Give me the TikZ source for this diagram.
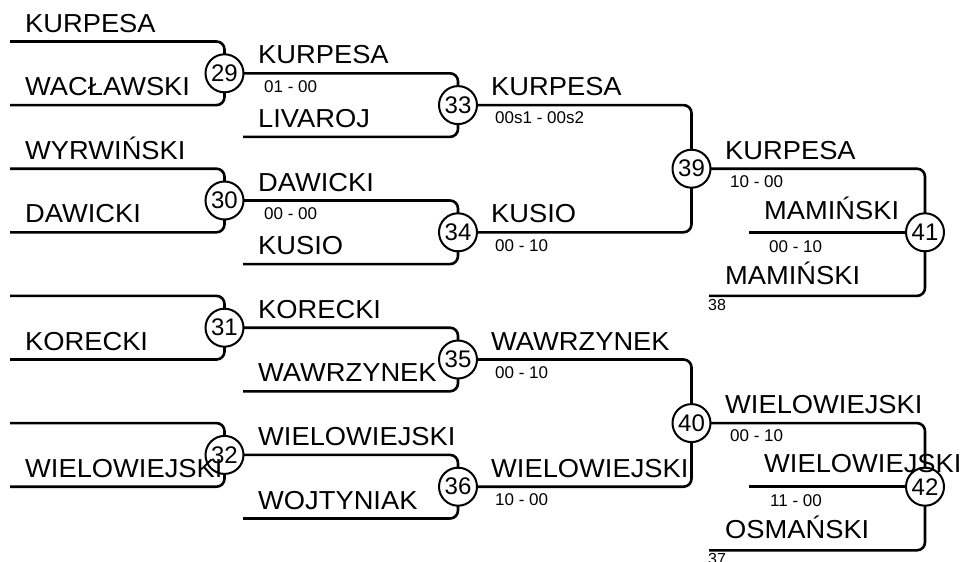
\documentclass[tikz,border=0pt]{standalone}
\usepackage{fontspec}
\setmainfont{Liberation Sans}
\newfontfamily\nmfont{Liberation Sans}[FakeStretch=1.05]
\usetikzlibrary{backgrounds}
\begin{document}
\begin{tikzpicture}[x=1pt,y=-1pt,
  conn/.style={line width=2.6pt, rounded corners=8pt},
  mnum/.style={circle, draw, line width=2pt, fill=white, minimum size=38pt, inner sep=0pt, font=\fontsize{24}{24}\selectfont},
  nm/.style={anchor=base west, inner sep=0pt, font=\nmfont\fontsize{26}{26}\selectfont},
  sc/.style={anchor=base west, inner sep=0pt, font=\fontsize{17}{17}\selectfont},
  sm/.style={anchor=base west, inner sep=0pt, font=\fontsize{16}{16}\selectfont}]
\useasboundingbox (0,0) rectangle (962,562);
% match circles
\node[mnum] (m29) at (224.5,73.3) {29};
\node[mnum] (m30) at (224.5,200.5) {30};
\node[mnum] (m31) at (224.5,327.7) {31};
\node[mnum] (m32) at (224.5,454.9) {32};
\node[mnum] (m33) at (458,105.1) {33};
\node[mnum] (m34) at (458,232.3) {34};
\node[mnum] (m35) at (458,359.5) {35};
\node[mnum] (m36) at (458,486.7) {36};
\node[mnum] (m39) at (691.5,168.7) {39};
\node[mnum] (m40) at (691.5,423.1) {40};
\node[mnum] (m41) at (925,232.3) {41};
\node[mnum] (m42) at (925,486.7) {42};
% free ends
\coordinate (s29t) at (10,41.5);  \coordinate (s29b) at (10,105.1);
\coordinate (s30t) at (10,168.7); \coordinate (s30b) at (10,232.3);
\coordinate (s31t) at (10,295.9); \coordinate (s31b) at (10,359.5);
\coordinate (s32t) at (10,423.1); \coordinate (s32b) at (10,486.7);
\coordinate (s33b) at (243,136.9); \coordinate (s34b) at (243,264.1);
\coordinate (s35b) at (243,391.3); \coordinate (s36b) at (243,518.5);
\coordinate (s41m) at (749,232.3); \coordinate (s41b) at (709,295.9);
\coordinate (s42m) at (749,486.7); \coordinate (s42b) at (709,550.3);
\begin{scope}[on background layer]
\fill[white] (0,0) rectangle (962,562);
\draw[conn] (s29t) -| (m29.center) |- (s29b);
\draw[conn] (s30t) -| (m30.center) |- (s30b);
\draw[conn] (s31t) -| (m31.center) |- (s31b);
\draw[conn] (s32t) -| (m32.center) |- (s32b);
\draw[conn] (m29.center) -| (m33.center) |- (s33b);
\draw[conn] (m30.center) -| (m34.center) |- (s34b);
\draw[conn] (m31.center) -| (m35.center) |- (s35b);
\draw[conn] (m32.center) -| (m36.center) |- (s36b);
\draw[conn] (m33.center) -| (m39.center) |- (m34.center);
\draw[conn] (m35.center) -| (m40.center) |- (m36.center);
\draw[conn] (m39.center) -| (m41.center) |- (s41b);
\draw[conn] (s41m) -- (m41.center);
\draw[conn] (m40.center) -| (m42.center) |- (s42b);
\draw[conn] (s42m) -- (m42.center);
\end{scope}
% round 1 names
\node[nm] (n1) at (25,32) {KURPESA};
\node[nm] (n2) at (25,95.5) {WACŁAWSKI};
\node[nm] (n3) at (25,159) {WYRWIŃSKI};
\node[nm] (n4) at (25,222.5) {DAWICKI};
\node[nm] (n5) at (25,350) {KORECKI};
\node[nm] (n6) at (25,477) {WIELOWIEJSKI};
% round 2
\node[nm] (n7) at (258,63.8) {KURPESA};
\node[sc] (c1) at (264,92) {01 - 00};
\node[nm] (n8) at (258,127.4) {LIVAROJ};
\node[nm] (n9) at (258,191) {DAWICKI};
\node[sc] (c2) at (264,219.3) {00 - 00};
\node[nm] (n10) at (258,254.6) {KUSIO};
\node[nm] (n11) at (258,318.2) {KORECKI};
\node[nm] (n12) at (258,381.8) {WAWRZYNEK};
\node[nm] (n13) at (258,445.4) {WIELOWIEJSKI};
\node[nm] (n14) at (258,509) {WOJTYNIAK};
% round 3
\node[nm] (n15) at (491,95.6) {KURPESA};
\node[sc] (c3) at (495,123.8) {00s1 - 00s2};
\node[nm] (n16) at (491,222.8) {KUSIO};
\node[sc] (c4) at (495,251) {00 - 10};
\node[nm] (n17) at (491,350) {WAWRZYNEK};
\node[sc] (c5) at (495,378.3) {00 - 10};
\node[nm] (n18) at (491,477.2) {WIELOWIEJSKI};
\node[sc] (c6) at (495,505.5) {10 - 00};
% round 4
\node[nm] (n19) at (725,159) {KURPESA};
\node[sc] (c7) at (730,187.7) {10 - 00};
\node[nm] (n20) at (764,219.5) {MAMIŃSKI};
\node[sc] (c8) at (769,252.7) {00 - 10};
\node[nm] (n21) at (725,284) {MAMIŃSKI};
\node[sm] (t38) at (708,310) {38};
\node[nm] (n22) at (725,413) {WIELOWIEJSKI};
\node[sc] (c9) at (730,441.7) {00 - 10};
\node[nm] (n23) at (764,472) {WIELOWIEJSKI};
\node[sc] (c10) at (770,506.7) {11 - 00};
\node[nm] (n24) at (725,538.5) {OSMAŃSKI};
\node[sm] (t37) at (708,564) {37};
\end{tikzpicture}
\end{document}
